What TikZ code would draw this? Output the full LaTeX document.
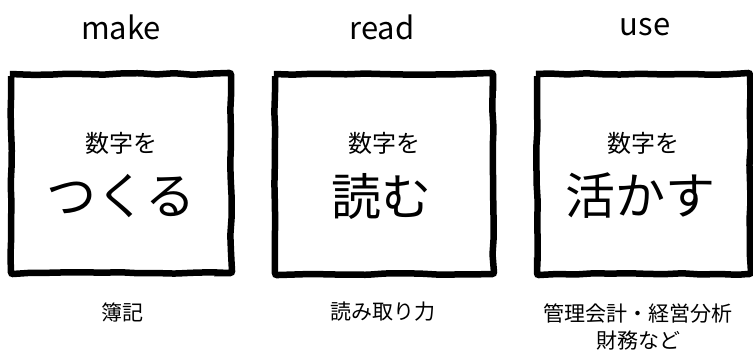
\documentclass[tikz,border=0pt]{standalone}
\usepackage{fontspec}
\setmainfont{Noto Sans CJK JP}
\newfontfamily\jpfont{Noto Sans CJK JP}
\usetikzlibrary{decorations.pathmorphing}
\begin{document}
\begin{tikzpicture}[x=1pt,y=-1pt,
  frame/.style={draw=black,line width=6.5pt,rounded corners=2pt,
    decorate,decoration={random steps,segment length=18pt,amplitude=0.8pt}},
  title/.style={font=\fontsize{31}{34}\selectfont,inner sep=0pt},
  small/.style={font=\jpfont\fontsize{24}{26}\selectfont,inner sep=0pt},
  big/.style={font=\jpfont\fontsize{50}{54}\selectfont,inner sep=0pt},
  note/.style={font=\jpfont\fontsize{21}{27}\selectfont,inner sep=0pt,align=center}]
\pgfmathsetseed{7}
\useasboundingbox (0,0) rectangle (753,353);
\fill[white] (0,0) rectangle (753,353);
% boxes
\draw[frame] (11,74) rectangle (231,273);
\draw[frame] (275,74) rectangle (493,274);
\draw[frame] (537,74) rectangle (750,274);
\node[inner sep=0pt,minimum width=220pt,minimum height=199pt] (b1) at (121,174) {};
\node[inner sep=0pt,minimum width=218pt,minimum height=200pt] (b2) at (384,174) {};
\node[inner sep=0pt,minimum width=213pt,minimum height=200pt] (b3) at (643,174) {};
% titles
\node[title] (t1) at (121,27) {make};
\node[title] (t2) at (382,27) {read};
\node[title] (t3) at (645,27) {use};
% inner texts
\node[small] (s1) at (121,143) {数字を};
\node[small] (s2) at (384,143) {数字を};
\node[small] (s3) at (643,143) {数字を};
\node[big] (m1) at (121,196) {つくる};
\node[big] (m2) at (381,196) {読む};
\node[big] (m3) at (640,196) {活かす};
% notes
\node[note] (n1) at (122,312) {簿記};
\node[note] (n2) at (383,312) {読み取り力};
\node[note] (n3) at (638,327) {管理会計・経営分析\\財務など};
\end{tikzpicture}
\end{document}
